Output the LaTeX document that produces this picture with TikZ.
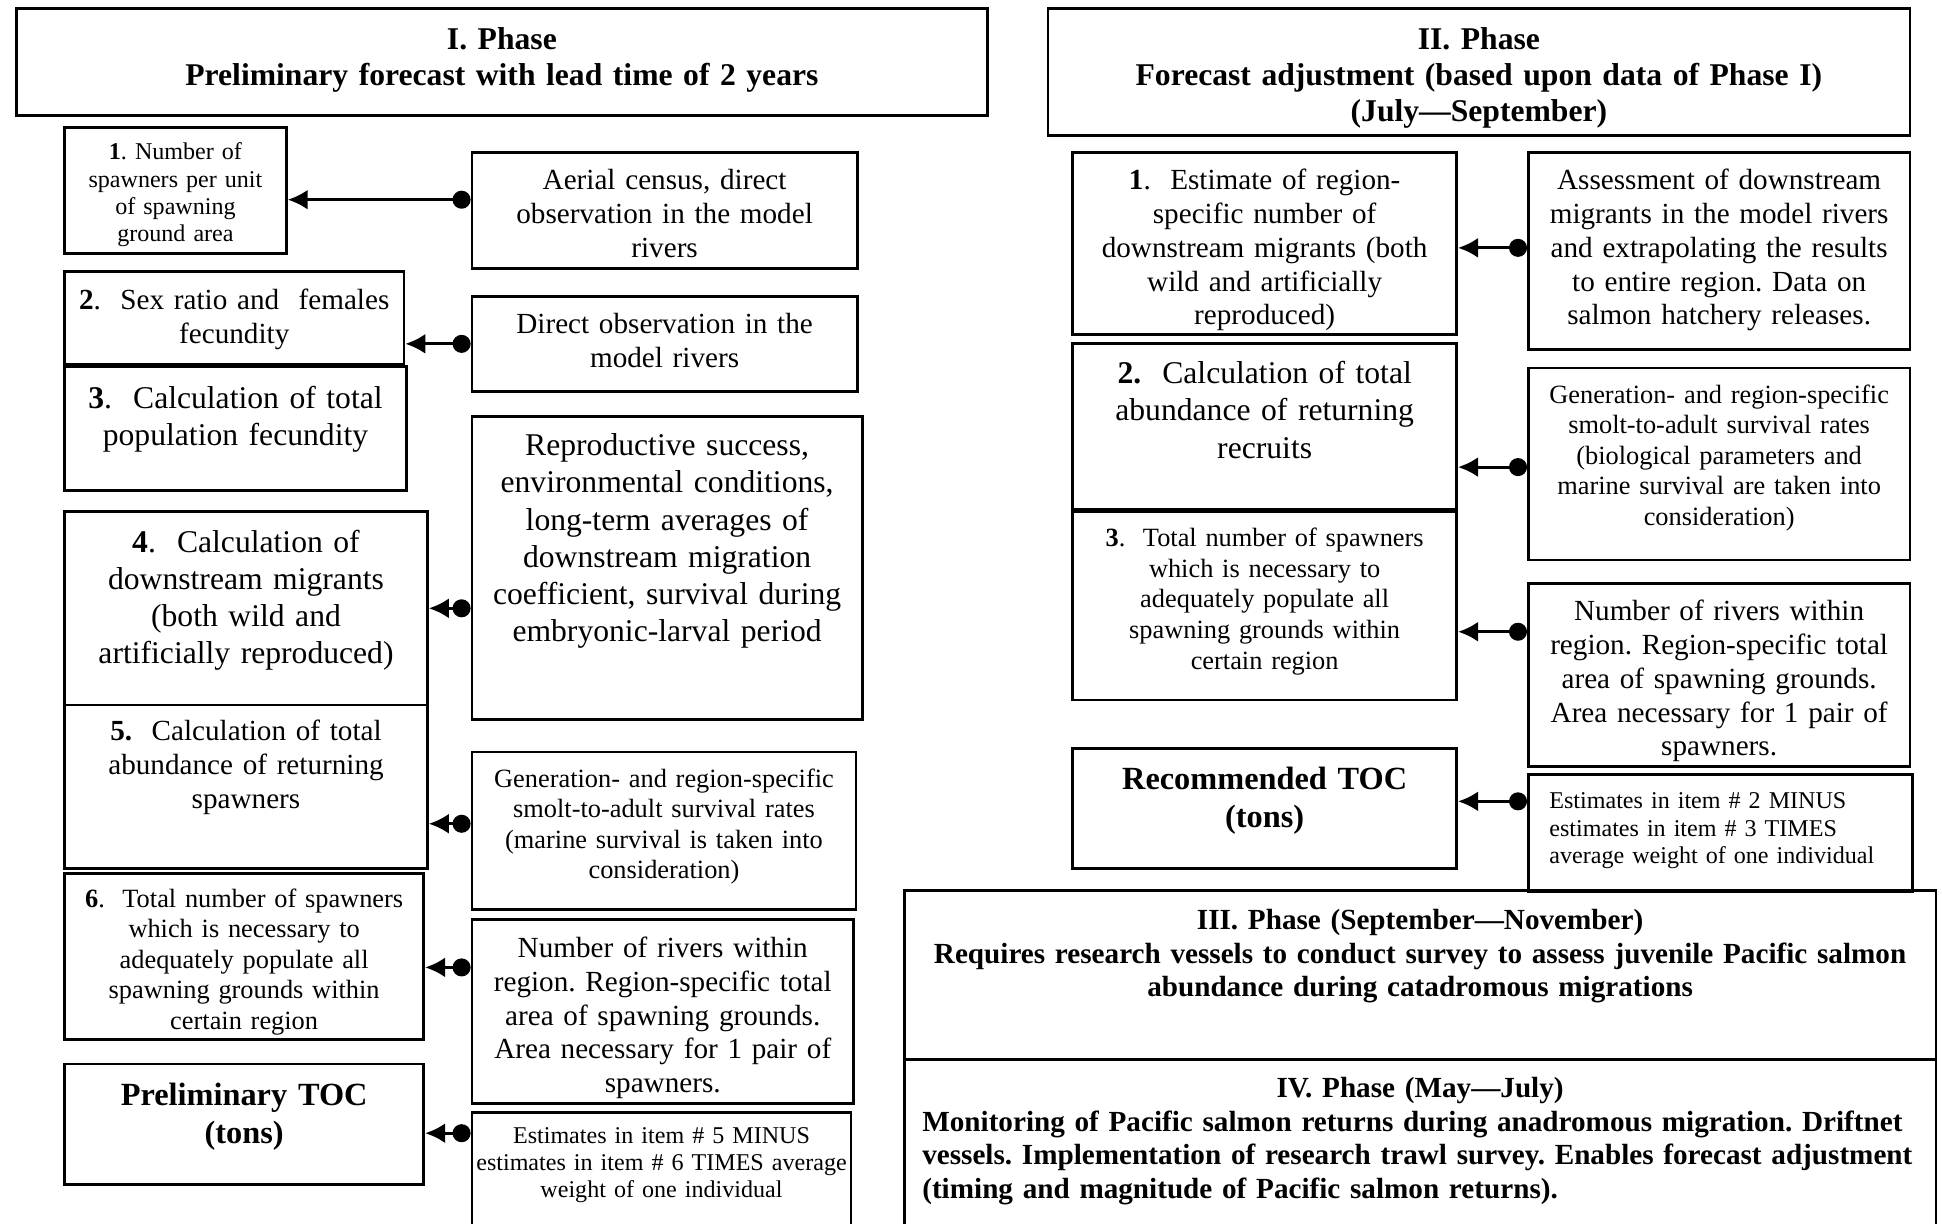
\documentclass[tikz,border=0pt]{standalone}
\usepackage{fontspec}
\setmainfont{Liberation Serif}
\usetikzlibrary{arrows.meta}
\frenchspacing

\begin{document}
\begin{tikzpicture}[
  box/.style={draw, line width=0.8pt, anchor=north west, inner sep=0pt, align=center},
  phasetxt/.style={font=\bfseries\fontsize{9}{10.3}\selectfont},
  boldtxt/.style={font=\bfseries\fontsize{8.3}{9.6}\selectfont},
  toctxt/.style={font=\bfseries\fontsize{9.2}{10.8}\selectfont},
  txtbig/.style={font=\fontsize{9}{10.6}\selectfont},
  txtmid/.style={font=\fontsize{8.3}{9.6}\selectfont},
  txtsml/.style={font=\fontsize{7.5}{8.7}\selectfont},
  txttny/.style={font=\fontsize{6.85}{7.8}\selectfont},
  feed/.style={line width=0.9pt, {Circle[length=1.8mm]}-{Latex[length=2mm,width=2mm]}}
]
\clip (0,0) rectangle (19.42,-12.24);

% Phase I
\node[box, phasetxt, text width=9.71cm, text height=4.1mm, text depth=6.6mm] (ph1) at (0.15,-0.07)
  {I. Phase\\Preliminary forecast with lead time of 2 years};

\node[box, txttny, text width=2.217cm, text height=3.2mm, text depth=9.4mm] (l1) at (0.632,-1.263)
  {\textbf{1}. Number of\\spawners per unit\\of spawning\\ground area};
\node[box, txtmid, text width=3.852cm, text height=3.73mm, text depth=7.91mm] (r1) at (4.706,-1.511)
  {Aerial census, direct\\observation in the model\\rivers};
\node[box, txtmid, text width=3.393cm, text height=3.85mm, text depth=5.44mm] (l2) at (0.632,-2.700)
  {\textbf{2}.\ \ Sex ratio and\ \ females\\fecundity};
\node[box, txtmid, text width=3.852cm, text height=3.72mm, text depth=5.81mm] (r2) at (4.706,-2.948)
  {Direct observation in the\\model rivers};
\node[box, txtbig, text width=3.418cm, text height=4.17mm, text depth=8.21mm] (l3) at (0.632,-3.654)
  {\textbf{3}.\ \ Calculation of total\\population fecundity};
\node[box, txtbig, text width=3.902cm, text height=3.92mm, text depth=26.42mm] (r3) at (4.706,-4.149)
  {Reproductive success,\\environmental conditions,\\long-term averages of\\downstream migration\\coefficient, survival during\\embryonic-larval period};
\node[box, txtbig, text width=3.628cm, text height=4.04mm, text depth=15.28mm] (l4) at (0.632,-5.103)
  {\textbf{4}.\ \ Calculation of\\downstream migrants\\(both wild and\\artificially reproduced)};
\node[box, txtmid, text width=3.628cm, text height=3.60mm, text depth=12.75mm] (l5) at (0.632,-7.035)
  {\textbf{5.}\ \ Calculation of total\\abundance of returning\\spawners};
\node[box, txtsml, text width=3.840cm, text height=3.52mm, text depth=12.21mm] (r5) at (4.706,-7.505)
  {Generation- and region-specific\\smolt-to-adult survival rates\\(marine survival is taken into\\consideration)};
\node[box, txtsml, text width=3.591cm, text height=3.39mm, text depth=13.21mm] (l6) at (0.632,-8.719)
  {\textbf{6}.\ \ Total number of spawners\\which is necessary to\\adequately populate all\\spawning grounds within\\certain region};
\node[box, txtmid, text width=3.815cm, text height=3.86mm, text depth=14.60mm] (r6) at (4.706,-9.177)
  {Number of rivers within\\region. Region-specific total\\area of spawning grounds.\\Area necessary for 1 pair of\\spawners.};
\node[box, toctxt, text width=3.591cm, text height=4.14mm, text depth=7.88mm] (l7) at (0.632,-10.626)
  {Preliminary TOC\\(tons)};
\node[box, txttny, text width=3.790cm, text height=3.08mm, text depth=9.83mm] (r7) at (4.706,-11.109)
  {Estimates in item \# 5 MINUS\\estimates in item \# 6 TIMES average\\weight of one individual};

% Phase II
\node[box, phasetxt, text width=8.62cm, text height=4.06mm, text depth=8.58mm] (ph2) at (10.465,-0.074)
  {II. Phase\\Forecast adjustment (based upon data of Phase I)\\(July—September)};

\node[box, txtmid, text width=3.839cm, text height=3.73mm, text depth=14.48mm] (m1) at (10.713,-1.511)
  {\textbf{1}.\ \ Estimate of region-\\specific number of\\downstream migrants (both\\wild and artificially\\reproduced)};
\node[box, txtmid, text width=3.815cm, text height=3.73mm, text depth=15.96mm] (n1) at (15.27,-1.511)
  {Assessment of downstream\\migrants in the model rivers\\and extrapolating the results\\to entire region. Data on\\salmon hatchery releases.};
\node[box, txtbig, text width=3.839cm, text height=4.05mm, text depth=12.55mm] (m2) at (10.713,-3.418)
  {\textbf{2.}\ \ Calculation of total\\abundance of returning\\recruits};
\node[box, txtsml, text width=3.815cm, text height=3.51mm, text depth=15.69mm] (n2) at (15.27,-3.666)
  {Generation- and region-specific\\smolt-to-adult survival rates\\(biological parameters and\\marine survival are taken into\\consideration)};
\node[box, txtsml, text width=3.839cm, text height=3.51mm, text depth=15.31mm] (m3) at (10.713,-5.103)
  {\textbf{3}.\ \ Total number of spawners\\which is necessary to\\adequately populate all\\spawning grounds within\\certain region};
\node[box, txtmid, text width=3.815cm, text height=3.73mm, text depth=14.60mm] (n3) at (15.27,-5.821)
  {Number of rivers within\\region. Region-specific total\\area of spawning grounds.\\Area necessary for 1 pair of\\spawners.};
\node[box, toctxt, text width=3.839cm, text height=4.14mm, text depth=7.88mm] (m4) at (10.713,-7.468)
  {Recommended TOC\\(tons)};
\node[box, txttny, align=left, inner xsep=2.1mm, text width=3.42cm, text height=3.44mm, text depth=8.33mm] (n4) at (15.27,-7.728)
  {Estimates in item \# 2 MINUS\\estimates in item \# 3 TIMES\\average weight of one individual};

% Phase III and IV
\node[box, boldtxt, text width=10.316cm, text height=3.88mm, text depth=12.97mm] (ph3) at (9.029,-8.892)
  {III. Phase (September—November)\\Requires research vessels to conduct survey to assess juvenile Pacific salmon\\abundance during catadromous migrations};
\node[box, boldtxt, align=left, inner xsep=1.8mm, text width=9.956cm, text height=3.83mm, text depth=14.4mm] (ph4) at (9.029,-10.577)
  {\makebox[\linewidth]{IV. Phase (May—July)}\\Monitoring of Pacific salmon returns during anadromous migration. Driftnet\\vessels. Implementation of research trawl survey. Enables forecast adjustment\\(timing and magnitude of Pacific salmon returns).};

% links
\coordinate (s1) at ([yshift=1.1mm]r1.west);
\coordinate (s5) at ([yshift=0.68mm]r5.west);
\coordinate (s6) at ([yshift=4.4mm]r6.west);
\coordinate (s7) at ([yshift=-2.23mm]r7.north west);
\draw[feed] (s1) -- (s1 -| l1.east);
\draw[feed] (r2.west) -- (r2.west -| l2.east);
\draw[feed] (l4.east -| r3.west) -- (l4.east);
\draw[feed] (s5) -- (s5 -| l5.east);
\draw[feed] (s6) -- (s6 -| l6.east);
\draw[feed] (s7) -- (s7 -| l7.east);

\coordinate (t1) at ([yshift=0.31mm]n1.west);
\coordinate (t2) at ([yshift=-0.31mm]n2.west);
\coordinate (t3) at ([yshift=4.34mm]n3.west);
\coordinate (t4) at ([yshift=3.17mm]n4.west);
\draw[feed] (t1) -- (t1 -| m1.east);
\draw[feed] (t2) -- (t2 -| m2.east);
\draw[feed] (t3) -- (t3 -| m3.east);
\draw[feed] (t4) -- (t4 -| m4.east);
\end{tikzpicture}
\end{document}
